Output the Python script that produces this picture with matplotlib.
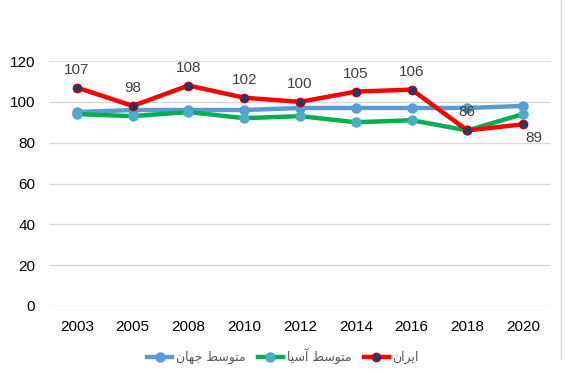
import matplotlib
matplotlib.use("Agg")
import matplotlib.pyplot as plt
from matplotlib.lines import Line2D

years = ["2003", "2005", "2008", "2010", "2012", "2014", "2016", "2018", "2020"]
world = [95, 96, 96, 96, 97, 97, 97, 97, 98]
asia = [94, 93, 95, 92, 93, 90, 91, 86, 94]
iran = [107, 98, 108, 102, 100, 105, 106, 86, 89]

label_world = "متوسط جهان"
label_asia = "متوسط آسیا"
label_iran = "ایران"

# matplotlib has no arabic shaping, so do a tiny one by hand:
# (isolated, final, initial, medial)
FORMS = {
    "\u0627": ("\uFE8D", "\uFE8E", None, None),
    "\u0622": ("\uFE81", "\uFE82", None, None),
    "\u062A": ("\uFE95", "\uFE96", "\uFE97", "\uFE98"),
    "\u062C": ("\uFE9D", "\uFE9E", "\uFE9F", "\uFEA0"),
    "\u0631": ("\uFEAD", "\uFEAE", None, None),
    "\u0633": ("\uFEB1", "\uFEB2", "\uFEB3", "\uFEB4"),
    "\u0637": ("\uFEC1", "\uFEC2", "\uFEC3", "\uFEC4"),
    "\u0645": ("\uFEE1", "\uFEE2", "\uFEE3", "\uFEE4"),
    "\u0646": ("\uFEE5", "\uFEE6", "\uFEE7", "\uFEE8"),
    "\u0647": ("\uFEE9", "\uFEEA", "\uFEEB", "\uFEEC"),
    "\u0648": ("\uFEED", "\uFEEE", None, None),
    "\u06CC": ("\uFBFC", "\uFBFD", "\uFBFE", "\uFBFF"),
}


def shape(text):
    out = []
    for i, ch in enumerate(text):
        if ch not in FORMS:
            out.append(ch)
            continue
        prev = text[i - 1] if i > 0 else None
        nxt = text[i + 1] if i + 1 < len(text) else None
        join_prev = prev in FORMS and FORMS[prev][2] is not None
        join_next = nxt in FORMS and FORMS[ch][2] is not None
        iso, fin, ini, med = FORMS[ch]
        if join_prev and join_next:
            out.append(med)
        elif join_prev:
            out.append(fin)
        elif join_next:
            out.append(ini)
        else:
            out.append(iso)
    return "".join(out)[::-1]


plt.rcParams["font.family"] = ["Liberation Sans", "DejaVu Sans"]

fig = plt.figure(figsize=(5.66, 3.78), dpi=100)
ax = fig.add_axes([0.0866, 0.1905, 0.8869, 0.6481])

x = list(range(len(years)))
ax.plot(x, world, color="#5B9BD5", lw=3.2, marker="o", ms=6.5,
        mfc="#5B9BD5", mec="#5B9BD5", zorder=3)
ax.plot(x, asia, color="#00B050", lw=3.2, marker="o", ms=6.5,
        mfc="#4BACC6", mec="#4BACC6", zorder=3)
ax.plot(x, iran, color="#FF0000", lw=3.2, marker="o", ms=6,
        mfc="#1F3A6E", mec="#C00000", mew=1, zorder=4)

for i, v in enumerate(iran):
    if i == len(iran) - 1:
        ax.annotate(str(v), (i, v), xytext=(11, -14), textcoords="offset pixels",
                    ha="center", va="center", fontsize=11, color="#404040")
    else:
        ax.annotate(str(v), (i, v), xytext=(0, 18), textcoords="offset pixels",
                    ha="center", va="center", fontsize=11, color="#404040")

ax.set_xlim(-0.5, len(years) - 0.5)
ax.set_ylim(0, 120)
ax.set_yticks(range(0, 121, 20))
ax.set_xticks(x)
ax.set_xticklabels(years)
ax.tick_params(length=0, labelsize=11, colors="#000000")
ax.tick_params(axis="y", pad=10)
ax.tick_params(axis="x", pad=10)
ax.grid(axis="y", color="#D9D9D9", lw=1)
ax.set_axisbelow(True)
for s in ax.spines.values():
    s.set_visible(False)

handles = [
    Line2D([], [], color="#5B9BD5", lw=3.2, marker="o", ms=6.5, mfc="#5B9BD5", mec="#5B9BD5"),
    Line2D([], [], color="#00B050", lw=3.2, marker="o", ms=6.5, mfc="#4BACC6", mec="#4BACC6"),
    Line2D([], [], color="#FF0000", lw=3.2, marker="o", ms=6, mfc="#1F3A6E", mec="#C00000"),
]
labels = [shape(label_world), shape(label_asia), shape(label_iran)]
fig.legend(handles, labels, loc="center", bbox_to_anchor=(0.5, 0.057), ncol=3,
           frameon=False, labelcolor="#595959",
           prop={"family": "DejaVu Sans", "size": 9},
           handlelength=2.0, handletextpad=0.3, columnspacing=1.0)

fig.add_artist(Line2D([0.991, 0.991], [0.05, 1.0], transform=fig.transFigure,
                      color="#D9D9D9", lw=1))

fig.savefig("out.png", dpi=100)
